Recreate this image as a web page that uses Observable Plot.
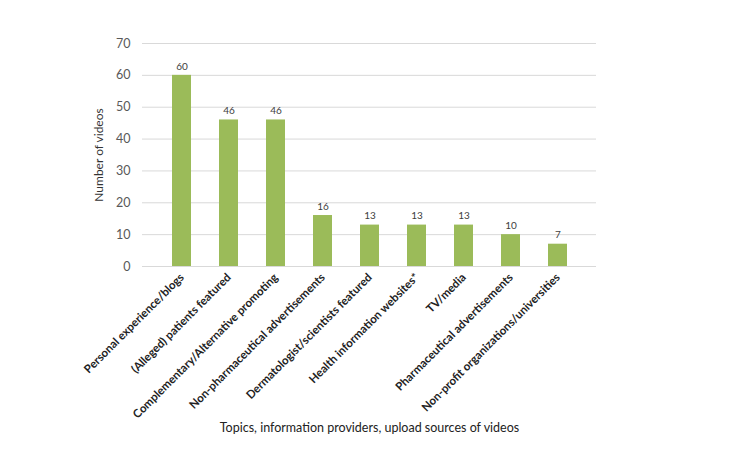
<!DOCTYPE html>
<html>
<head>
<meta charset="utf-8">
<script src="https://cdn.jsdelivr.net/npm/d3@7"></script>
<script src="https://cdn.jsdelivr.net/npm/@observablehq/plot@0.6"></script>
<style>
  body { margin: 0; background: #fff; }
  #chart svg { font-family: Lato, "Open Sans", sans-serif; }
</style>
</head>
<body>
<div id="chart"></div>
<script>
const categories = [
  "Personal experience/blogs",
  "(Alleged) patients featured",
  "Complementary/Alternative promoting",
  "Non-pharmaceutical advertisements",
  "Dermatologist/scientists featured",
  "Health information websites*",
  "TV/media",
  "Pharmaceutical advertisements",
  "Non-profit organizations/universities"
];
const counts = [60, 46, 46, 16, 13, 13, 13, 10, 7];
const yTicks = [0, 10, 20, 30, 40, 50, 60, 70];

const data = categories.map((c, i) => ({category: c, count: counts[i]}));

const chart = Plot.plot({
  width: 746,
  height: 450,
  marginLeft: 142,
  marginRight: 150,
  marginTop: 43,
  marginBottom: 184,
  style: {background: "#fff", fontFamily: "Lato, 'Open Sans', sans-serif"},
  x: {domain: categories, padding: 0.6, label: null},
  y: {domain: [0, 70], ticks: yTicks, label: null},
  marks: [
    Plot.gridY(yTicks, {stroke: "#d9d9d9", strokeOpacity: 1, strokeWidth: 1}),
    Plot.axisY({ticks: yTicks, tickSize: 0, tickPadding: 12, fontSize: 12.5, color: "#595959", label: null}),
    Plot.axisY({ticks: [], tickSize: 0, label: "Number of videos", labelAnchor: "center", labelArrow: "none", labelOffset: 48, fontSize: 12, color: "#333"}),
    Plot.axisX({tickSize: 0, tickPadding: 9, tickRotate: -45, fontSize: 11.5, fontWeight: "bold", color: "#222", label: null}),
    Plot.axisX({ticks: [], tickSize: 0, label: "Topics, information providers, upload sources of videos", labelAnchor: "center", labelArrow: "none", labelOffset: 165, fontSize: 12.5, color: "#222"}),
    Plot.barY(data, {x: "category", y: "count", fill: "#9bbb59"}),
    Plot.ruleY([0], {stroke: "#d9d9d9"}),
    Plot.text(data, {x: "category", y: "count", text: d => String(d.count), dy: -9, fontSize: 10, fill: "#404040"})
  ]
});
document.getElementById("chart").appendChild(chart);
</script>
</body>
</html>
